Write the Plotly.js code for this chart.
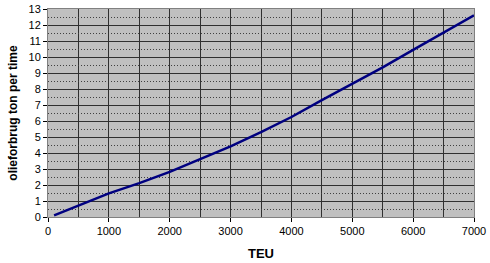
<!DOCTYPE html>
<html><head><meta charset="utf-8">
<script src="https://cdn.plot.ly/plotly-3.0.1.min.js"></script>
<style>html,body{margin:0;padding:0;background:#fff}#c{width:490px;height:263px}</style>
</head><body><div id="c"></div>
<script>
const teu = [100, 500, 1000, 1500, 2000, 2500, 3000, 3500, 4000, 4500, 5000, 5500, 6000, 6500, 7000];
const oil = [0.1, 0.7, 1.48, 2.12, 2.82, 3.62, 4.42, 5.3, 6.25, 7.3, 8.3, 9.35, 10.45, 11.5, 12.6];
const xTitle = 'TEU';
const yTitle = 'olieforbrug ton per time';

Plotly.newPlot('c', [{
  x: teu, y: oil, type: 'scatter', mode: 'lines',
  line: {color: '#000080', width: 2.5}, hoverinfo: 'skip'
}], {
  width: 490, height: 263,
  margin: {l: 48, r: 16, t: 9, b: 46},
  paper_bgcolor: '#fff', plot_bgcolor: '#c0c0c0',
  showlegend: false,
  font: {family: 'Liberation Sans, Arial, sans-serif', size: 11, color: '#000'},
  xaxis: {
    range: [0, 7000], dtick: 1000, tick0: 0,
    showgrid: true, gridcolor: '#303030', gridwidth: 1, zeroline: false,
    ticks: 'outside', ticklen: 4, tickcolor: '#000',
    showline: true, linecolor: '#808080', mirror: true,
    minor: {dtick: 500, tick0: 0, showgrid: true, gridcolor: '#303030', gridwidth: 1, ticks: ''},
    title: {text: xTitle, font: {size: 13, family: 'Liberation Sans, Arial, sans-serif', weight: 'bold'}, standoff: 12}
  },
  yaxis: {
    range: [0, 13], dtick: 1, tick0: 0,
    showgrid: true, gridcolor: '#303030', gridwidth: 1, zeroline: false,
    ticks: 'outside', ticklen: 4, tickcolor: '#000',
    showline: true, linecolor: '#808080', mirror: true,
    minor: {dtick: 0.5, tick0: 0, showgrid: true, gridcolor: '#404040', gridwidth: 1, griddash: '1px,2px', ticks: ''},
    title: {text: yTitle, font: {size: 12, family: 'Liberation Sans, Arial, sans-serif', weight: 'bold'}, standoff: 8}
  }
}, {displayModeBar: false, staticPlot: true});
</script></body></html>
